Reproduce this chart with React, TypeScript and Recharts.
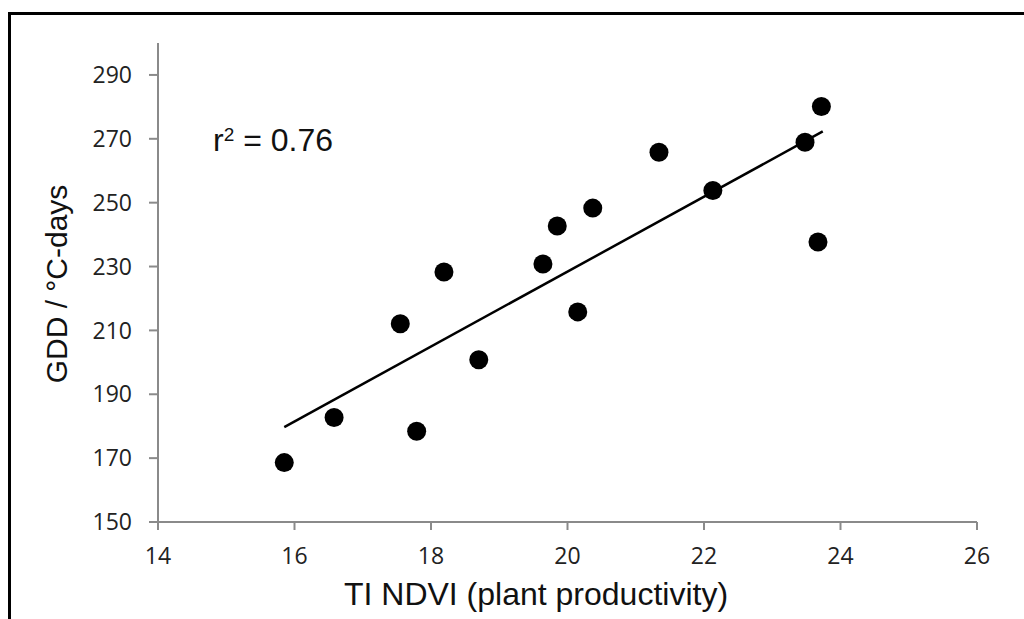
import React from 'react'
import {
  ScatterChart,
  Scatter,
  XAxis,
  YAxis,
  ReferenceLine,
} from 'recharts'

// TI NDVI vs GDD
const ndvi = [15.85, 16.58, 17.55, 17.79, 18.19, 18.7, 19.64, 19.85, 20.15, 20.37, 21.34, 22.13, 23.48, 23.72, 23.67]
const gdd = [168.6, 182.7, 212.1, 178.4, 228.3, 200.8, 230.8, 242.7, 215.8, 248.3, 265.8, 253.8, 268.9, 280.1, 237.7]

// fitted line endpoints as drawn in the figure
const trendX = [15.85, 23.74]
const trendY = [179.7, 272.3]

const xTicks = [14, 16, 18, 20, 22, 24, 26]
const yTicks = [150, 170, 190, 210, 230, 250, 270, 290]

const points = ndvi.map((x, i) => ({ x, y: gdd[i] }))

const axisGrey = '#8a8a8a'
const tickStyle = { fontFamily: '"Open Sans", sans-serif', fontSize: 23, fill: '#222' }
const titleFont = '"Liberation Sans", Arial, sans-serif'

const Dot = (props: any) => {
  const { cx, cy } = props
  if (cx == null || cy == null) return null
  return <circle cx={cx} cy={cy} r={9.5} fill="#000" />
}

const XTitle = () => (
  <text x={536} y={605} textAnchor="middle" style={{ fontFamily: titleFont, fontSize: 32, fill: '#111' }}>
    TI NDVI (plant productivity)
  </text>
)

const YTitle = () => (
  <text
    x={67}
    y={284}
    textAnchor="middle"
    transform="rotate(-90, 67, 284)"
    style={{ fontFamily: titleFont, fontSize: 30, fill: '#111' }}
  >
    GDD / °C-days
  </text>
)

export default function App() {
  return (
    <div style={{ position: 'absolute', left: 0, top: 0, width: 1024, height: 619, background: '#fff' }}>
      <div
        style={{
          position: 'absolute',
          left: 8,
          top: 12,
          width: 1016,
          height: 607,
          borderLeft: '3px solid #000',
          borderTop: '3px solid #000',
          boxSizing: 'border-box',
        }}
      />
      <div style={{ position: 'absolute', left: 0, top: 0 }}>
        <ScatterChart width={1024} height={619} margin={{ top: 43, right: 47, left: 98, bottom: 37 }}>
          <XAxis
            type="number"
            dataKey="x"
            domain={[14, 26]}
            ticks={xTicks}
            height={60}
            stroke={axisGrey}
            strokeWidth={2}
            tickSize={8}
            tickMargin={18}
            tick={tickStyle}
            tickLine={{ stroke: axisGrey, strokeWidth: 2 }}
            label={<XTitle />}
          />
          <YAxis
            type="number"
            dataKey="y"
            domain={[150, 300]}
            ticks={yTicks}
            width={60}
            stroke={axisGrey}
            strokeWidth={2}
            tickSize={9}
            tickMargin={17}
            tick={tickStyle}
            tickLine={{ stroke: axisGrey, strokeWidth: 2 }}
            label={<YTitle />}
          />
          <ReferenceLine
            segment={[
              { x: trendX[0], y: trendY[0] },
              { x: trendX[1], y: trendY[1] },
            ]}
            stroke="#000"
            strokeWidth={2.5}
            ifOverflow="visible"
          />
          <Scatter data={points} shape={<Dot />} isAnimationActive={false} />
        </ScatterChart>
      </div>
      <div
        style={{
          position: 'absolute',
          left: 213,
          top: 153 - 29,
          fontFamily: titleFont,
          fontSize: 32,
          lineHeight: '32px',
          color: '#111',
          whiteSpace: 'nowrap',
        }}
      >
        r<span style={{ fontSize: 19, position: 'relative', top: -10 }}>2</span> = 0.76
      </div>
    </div>
  )
}
